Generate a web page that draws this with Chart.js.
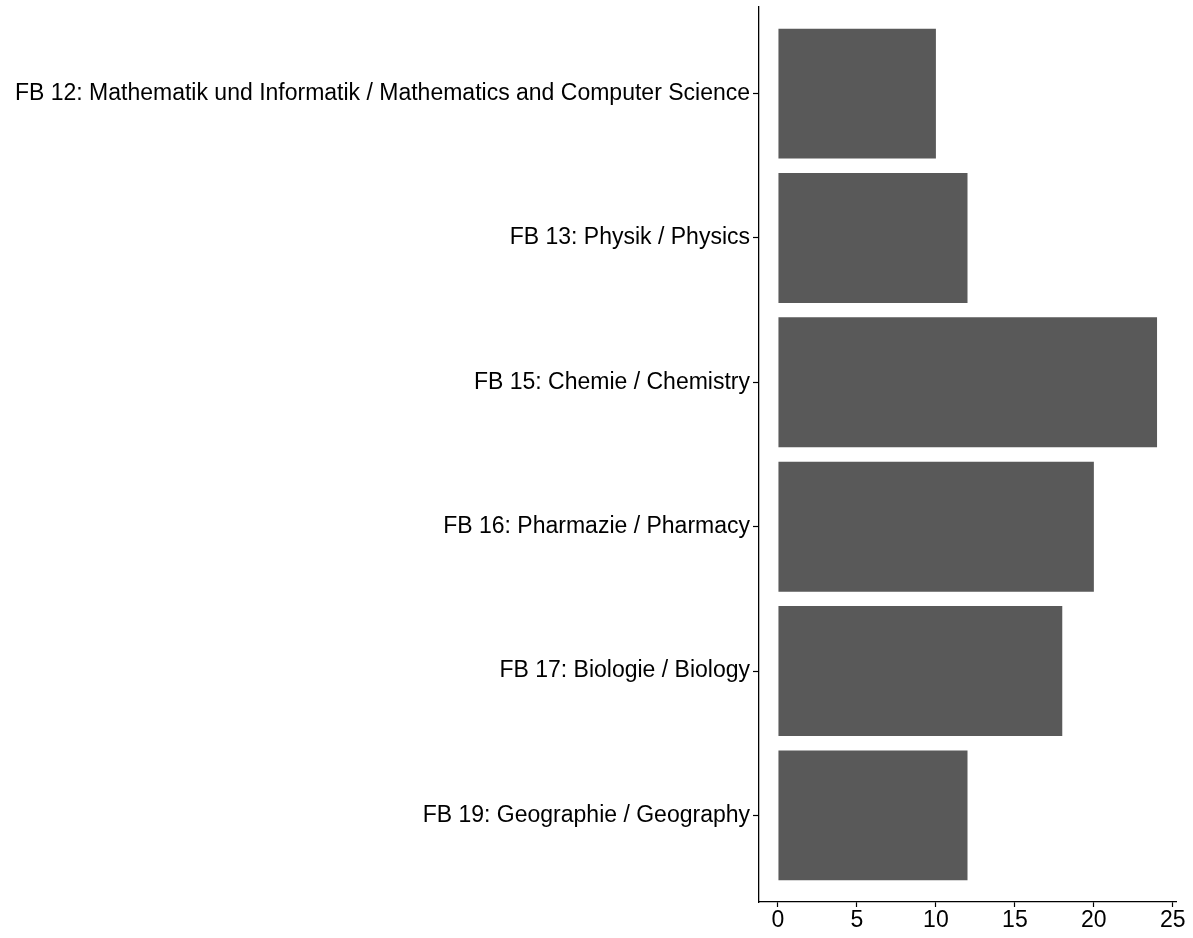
<!DOCTYPE html>
<html>
<head>
<meta charset="utf-8">
<script src="https://cdn.jsdelivr.net/npm/chart.js@4.4.1/dist/chart.umd.min.js"></script>
<style>
  body { margin: 0; background: #fff; }
  #wrap { width: 1193px; height: 938px; position: relative; }
</style>
</head>
<body>
<div id="wrap"><canvas id="chart"></canvas></div>
<script>
const categories = [
    'FB 12: Mathematik und Informatik / Mathematics and Computer Science',
    'FB 13: Physik / Physics',
    'FB 15: Chemie / Chemistry',
    'FB 16: Pharmazie / Pharmacy',
    'FB 17: Biologie / Biology',
    'FB 19: Geographie / Geography'
];
const counts = [10, 12, 24, 20, 18, 12];
const xTicks = [0, 5, 10, 15, 20, 25];

const font = { family: 'Liberation Sans, Arial, sans-serif', size: 23 };

new Chart(document.getElementById('chart'), {
    type: 'bar',
    data: {
        datasets: [{
            data: counts.map((v, i) => ({ x: v, y: i })),
            backgroundColor: '#595959',
            borderWidth: 0,
            barPercentage: 0.9,
            categoryPercentage: 1
        }]
    },
    options: {
        indexAxis: 'y',
        responsive: true,
        maintainAspectRatio: false,
        animation: false,
        layout: { padding: { top: 7, right: 17, bottom: 0, left: 0 } },
        plugins: { legend: { display: false }, tooltip: { enabled: false } },
        scales: {
            x: {
                type: 'linear',
                min: -1.2,
                max: 25.2,
                afterBuildTicks: (scale) => { scale.ticks = xTicks.map(v => ({ value: v })); },
                afterFit: (scale) => { scale.height = 36; },
                ticks: { color: '#000', font: font, padding: 0, includeBounds: false, maxRotation: 0 },
                grid: { drawOnChartArea: false, tickLength: 5, tickColor: '#000', tickWidth: 1.2 },
                border: { display: true, color: '#000', width: 1.3 }
            },
            y: {
                type: 'linear',
                reverse: true,
                offset: false,
                min: -0.6,
                max: 5.6,
                afterBuildTicks: (scale) => { scale.ticks = categories.map((c, i) => ({ value: i })); },
                afterFit: (scale) => {
                    scale.width = 759;
                    scale.paddingTop = 0;
                    scale.paddingBottom = 0;
                },
                ticks: {
                    color: '#000',
                    font: font,
                    padding: 3,
                    autoSkip: false,
                    callback: (v) => categories[v] ?? ''
                },
                grid: { offset: false, drawOnChartArea: false, tickLength: 6, tickColor: '#000', tickWidth: 1.2 },
                border: { display: true, color: '#000', width: 1.3 }
            }
        }
    }
});
</script>
</body>
</html>
